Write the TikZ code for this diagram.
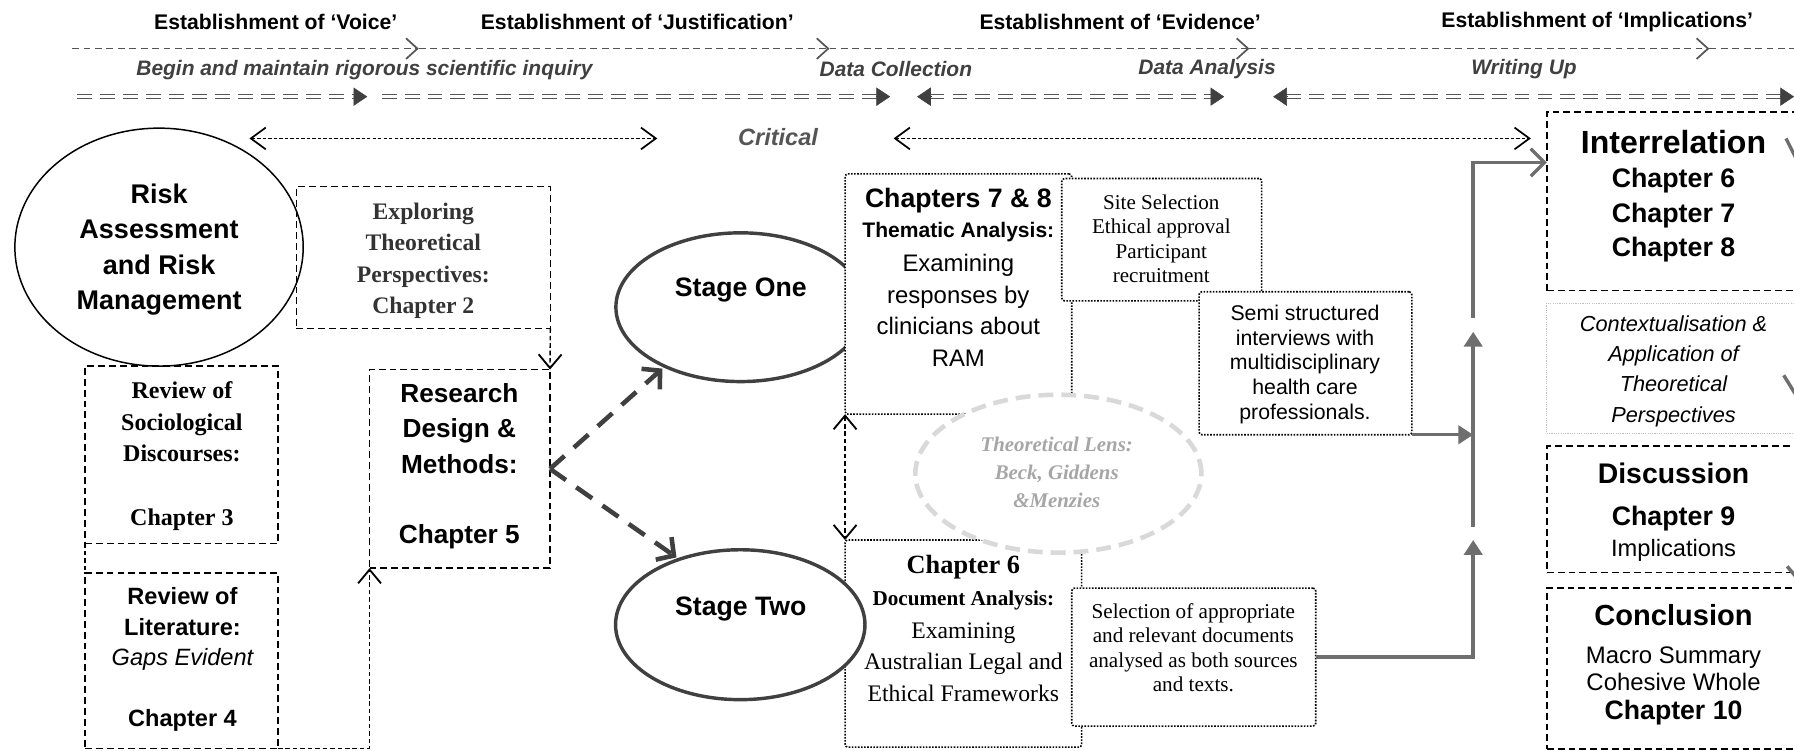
\documentclass[tikz,border=0pt]{standalone}
\usepackage{fontspec}
\setmainfont{Liberation Sans}
\newfontfamily\serif{Liberation Serif}
\usetikzlibrary{arrows.meta,shapes.geometric,calc,fit}

\definecolor{ink}{HTML}{404040}
\definecolor{rulegray}{HTML}{555555}
\definecolor{darkserif}{HTML}{333333}
\definecolor{lensline}{HTML}{D9D9D9}
\definecolor{lenstext}{HTML}{A6A6A6}
\definecolor{pipegray}{HTML}{6E6E6E}
\definecolor{softdot}{HTML}{BFBFBF}

\newcommand{\txtsize}[2]{\fontsize{#1pt}{#2pt}\selectfont}

\tikzset{
  openbarb/.tip={Straight Barb[length=12pt,width=20pt,line width=1.6pt]},
  critbarb/.tip={Straight Barb[length=13pt,width=19pt,line width=1.5pt]},
  every node/.style={inner sep=0pt, outer sep=0pt},
  txt/.style={align=center},
  hdr/.style={font=\bfseries\txtsize{18.5}{22}},
  phase/.style={font=\bfseries\itshape\txtsize{18.3}{22}, text=ink},
  dashbox/.style={draw=black, line width=1.3pt, dash pattern=on 6pt off 3.5pt},
  dotbox/.style={draw=black, fill=white, line width=1.4pt, dash pattern=on 1.4pt off 1.3pt, rounded corners=2.5pt},
  softbox/.style={draw=softdot, line width=1pt, dash pattern=on 1pt off 1pt},
  linkline/.style={draw=black, line width=1.2pt, dash pattern=on 4pt off 2.5pt},
  openhead/.style={-{openbarb}},
  timeline/.style={draw=rulegray, line width=1.1pt, dash pattern=on 6pt off 4pt, -{Straight Barb[length=10pt,width=18pt,line width=1.5pt]}},
  dblline/.style={draw=rulegray, line width=0.9pt, double=white, double distance=2.4pt, dash pattern=on 13pt off 7pt},
  dbltip/.style={draw=ink, fill=ink, line width=0.5pt, -{Triangle[length=12pt,width=16pt]}},
  critline/.style={draw=black, line width=1pt, dash pattern=on 3pt off 1.8pt, {critbarb}-{critbarb}},
  stageell/.style={ellipse, draw=ink, line width=3pt, fill=white},
  stagearrow/.style={draw=ink, line width=4pt, dash pattern=on 17pt off 11pt, shorten >=3pt, -{Straight Barb[length=11pt,width=24pt]}},
  pipe/.style={draw=pipegray, line width=3pt},
  pipetip/.style={pipe, -{Triangle[length=13pt,width=16pt]}},
}

\begin{document}
\begin{tikzpicture}[x=1pt,y=-1pt]
\useasboundingbox (0,0) rectangle (1568,656);
\clip (0,0) rectangle (1568,656);

% ---- stage headings and time line ----
\node[hdr] (hVoice) at (241,19) {Establishment of ‘Voice’};
\node[hdr] (hJust) at (557,19) {Establishment of ‘Justification’};
\node[hdr] (hEvid) at (979,19) {Establishment of ‘Evidence’};
\node[hdr] (hImpl) at (1396,19) {Establishment of ‘Implications’};

\coordinate (t0) at (63,42.5);
\coordinate (t1) at (366,42.5);
\coordinate (t2) at (725,42.5);
\coordinate (t3) at (1092,42.5);
\coordinate (t4) at (1494,42.5);
\coordinate (t5) at (1575,42.5);
\draw[timeline] (t0) -- (t1);
\draw[timeline] (t1) -- (t2);
\draw[timeline] (t2) -- (t3);
\draw[timeline] (t3) -- (t4);
\draw[timeline,-] (t4) -- (t5);

% ---- research phases ----
\node[phase] (pBegin) at (318.5,61) {Begin and maintain rigorous scientific inquiry};
\node[phase] (pColl) at (783,60) {Data Collection};
\node[phase] (pAnal) at (1055,60) {Data Analysis};
\node[phase] (pWrite) at (1332,60) {Writing Up};

\coordinate (d1a) at (67.7,84.5);  \coordinate (d1b) at (321,84.5);
\coordinate (d2a) at (333.7,84.5); \coordinate (d2b) at (778,84.5);
\coordinate (d3a) at (801.5,84.5); \coordinate (d3b) at (1070,84.5);
\coordinate (d4a) at (1112.8,84.5);\coordinate (d4b) at (1568,84.5);
\draw[dblline] (d1a) -- ($(d1b)+(-11,0)$);
\draw[dbltip] ($(d1b)+(-12,0)$) -- (d1b);
\draw[dblline] (d2a) -- ($(d2b)+(-11,0)$);
\draw[dbltip] ($(d2b)+(-12,0)$) -- (d2b);
\draw[dblline] ($(d3a)+(11,0)$) -- ($(d3b)+(-11,0)$);
\draw[dbltip] ($(d3a)+(12,0)$) -- (d3a);
\draw[dbltip] ($(d3b)+(-12,0)$) -- (d3b);
\draw[dblline] ($(d4a)+(11,0)$) -- ($(d4b)+(-11,0)$);
\draw[dbltip] ($(d4a)+(12,0)$) -- (d4a);
\draw[dbltip] ($(d4b)+(-12,0)$) -- (d4b);

% ---- critical stance ----
\node[font=\bfseries\itshape\txtsize{20.6}{24}, text=rulegray] (crit) at (680,119.5) {Critical};
\coordinate (c1a) at (218,121);  \coordinate (c1b) at (574.5,121);
\coordinate (c2a) at (781,121);  \coordinate (c2b) at (1338,121);
\draw[critline] (c1a) -- (c1b);
\draw[critline] (c2a) -- (c2b);

% ---- literature and theory ----
\node[ellipse, draw=black, line width=1.3pt, minimum width=252pt, minimum height=208pt] (risk) at (139,216) {};
\node[txt, font=\bfseries\txtsize{23.6}{31}] (riskT) at (139,218) {Risk\\Assessment\\and Risk\\Management};

\node[dashbox, fit={(259,163) (481,287)}] (explore) {};
\node[txt, font=\serif\bfseries\txtsize{20.7}{27.3}, text=darkserif] (exploreT) at (370,228) {Exploring\\Theoretical\\Perspectives:\\Chapter 2};

\node[dashbox, fit={(74.3,320) (243,475)}] (socio) {};
\node[txt, font=\serif\bfseries\txtsize{21}{27.75}] (socioT) at (159,398.5) {Review of\\Sociological\\Discourses:\\[27.75pt]Chapter 3};

\node[dashbox, fit={(74.3,501) (243,654)}] (lit) {};
\node[txt, font=\bfseries\txtsize{20.6}{26.7}] (litT) at (159.5,576.5) {Review of\\Literature:\\{\mdseries\itshape Gaps Evident}\\[26.7pt]Chapter 4};

\node[dashbox, fit={(323,323) (480.7,496.6)}] (design) {};
\node[txt, font=\bfseries\txtsize{22.9}{30.9}] (designT) at (401.5,407.5) {Research\\Design \&\\Methods:\\[30.9pt]Chapter 5};

\draw[linkline] (socio.south west) -- (lit.north west);
\draw[linkline, openhead] (lit.south east) -| (design.south west);
\draw[linkline, openhead] (explore.south east) -- (design.north east);

% ---- stage one: interviews ----
\node[stageell, minimum width=218pt, minimum height=130pt] (stage1) at (647.3,268.5) {};
\node[font=\bfseries\txtsize{23.3}{28}] (stage1T) at (647.5,253.5) {Stage One};

\node[dotbox, fit={(738.6,152) (936.7,362)}] (ch78) {};
\node[dotbox, fit={(928,156) (1102.7,263)}] (site) {};
\node[dotbox, fit={(1048,255) (1234,380)}] (semi) {};

% ---- stage two: documents ----
\node[dotbox, fit={(738.6,472) (945.4,653)}] (ch6) {};
\node[dotbox, fit={(936.7,514) (1150,634.6)}] (select) {};

\node[ellipse, draw=lensline, fill=white, line width=4pt, dash pattern=on 13pt off 7pt, minimum width=250pt, minimum height=138pt] (lens) at (925,414) {};

\node[stageell, minimum width=218pt, minimum height=131pt] (stage2) at (647,546) {};
\node[font=\bfseries\txtsize{23.3}{28}] (stage2T) at (647.5,532.5) {Stage Two};

\node[font=\bfseries\txtsize{23.3}{28}] (ch78T) at (837.6,175) {Chapters 7 \& 8};
\node[font=\bfseries\txtsize{18.4}{22}] (ch78S) at (837.6,203) {Thematic Analysis:};
\node[txt, font=\txtsize{20.9}{27.5}] (ch78B) at (837.6,271.4) {Examining\\responses by\\clinicians about\\RAM};

\node[txt, font=\serif\txtsize{18.4}{21.4}] (siteT) at (1015,208.7) {Site Selection\\Ethical approval\\Participant\\recruitment};
\node[txt, font=\txtsize{18.6}{21.75}] (semiT) at (1140.6,318.5) {Semi structured\\interviews with\\multidisciplinary\\health care\\professionals.};

\node[font=\serif\bfseries\txtsize{23}{28}] (ch6T) at (842,496) {Chapter 6};
\node[font=\serif\bfseries\txtsize{18.5}{22}] (ch6S) at (842,524.5) {Document Analysis:};
\node[txt, font=\serif\txtsize{20.7}{27.5}] (ch6B) at (842,578.5) {Examining\\Australian Legal and\\Ethical Frameworks};

\node[txt, font=\serif\txtsize{18.5}{21.3}] (selectT) at (1043,566) {Selection of appropriate\\and relevant documents\\analysed as both sources\\and texts.};

\node[txt, font=\serif\bfseries\itshape\txtsize{18.2}{24.75}, text=lenstext] (lensT) at (923.6,412.8) {Theoretical Lens:\\Beck, Giddens\\\&Menzies};

\draw[linkline, {openbarb}-{openbarb}] (ch78.south west) -- (ch6.north west);

% ---- research design to the two stages ----
\draw[stagearrow] (design.east) -- (stage1.218);
\draw[stagearrow] (design.east) -- (stage2.133);

% ---- findings feeding the interrelation ----
\coordinate (jx1) at (1287.6,472);
\coordinate (jx2) at (1287.6,460.6);
\coordinate (jx3) at (1287.6,290);
\coordinate (jx4) at (1287.6,278);
\coordinate (jx5) at (1287.6,142);

% ---- writing-up column ----
\node[dashbox, fit={(1352,98) (1574,254)}] (interrel) {};
\node[font=\bfseries\txtsize{28}{32}] (interrelT) at (1462.7,124) {Interrelation};
\node[txt, font=\bfseries\txtsize{23.4}{30}] (interrelB) at (1462.7,188) {Chapter 6\\Chapter 7\\Chapter 8};

\node[softbox, fit={(1352,265) (1574,379)}] (context) {};
\node[txt, font=\itshape\txtsize{19}{26.3}] (contextT) at (1462.7,324.5) {Contextualisation \&\\Application of\\Theoretical\\Perspectives};

\node[dashbox, fit={(1352,390) (1574,500.5)}] (discuss) {};
\node[font=\bfseries\txtsize{24.8}{30}] (discussT) at (1462.7,413.7) {Discussion};
\node[font=\bfseries\txtsize{23.4}{28}] (discussC) at (1462.7,453.6) {Chapter 9};
\node[font=\txtsize{20.7}{24}] (discussB) at (1462.7,480.8) {Implications};

\node[dashbox, fit={(1352,514) (1574,654.6)}] (conclude) {};
\node[font=\bfseries\txtsize{25.4}{30}] (concludeT) at (1462.7,538) {Conclusion};
\node[txt, font=\txtsize{20.9}{23.6}] (concludeB) at (1462.7,584.8) {Macro Summary\\Cohesive Whole};
\node[font=\bfseries\txtsize{23.3}{28}] (concludeC) at (1462.7,622.6) {Chapter 10};

\draw[pipetip] (select.east) -| (jx1);
\draw[pipetip] (jx2) -- (jx3);
\draw[pipetip] (semi.south east) -- (semi.south east -| jx2);
\draw[pipe, -{Straight Barb[length=12pt,width=24pt]}] (jx4) -- (jx5) -- (jx5 -| interrel.west);

% ---- links running on past the right edge ----
\coordinate (e1a) at (1561,121); \coordinate (e1b) at (1572,143);
\coordinate (e2a) at (1559,328); \coordinate (e2b) at (1572,349);
\coordinate (e3a) at (1562,495); \coordinate (e3b) at (1573,508);
\draw[pipe] (e1a) -- (e1b);
\draw[pipe] (e2a) -- (e2b);
\draw[pipe] (e3a) -- (e3b);
\end{tikzpicture}
\end{document}
